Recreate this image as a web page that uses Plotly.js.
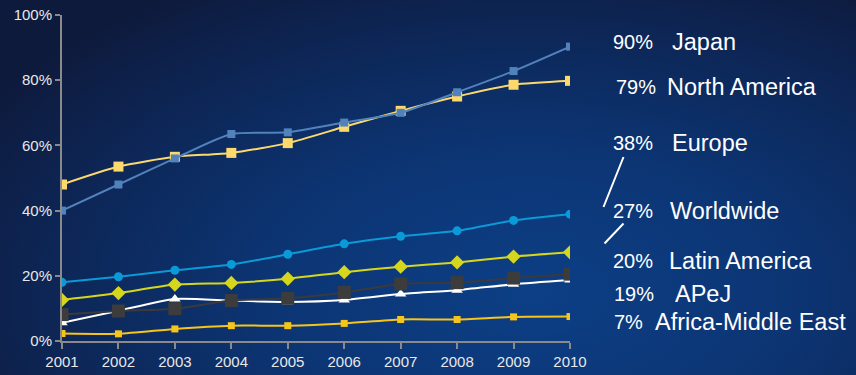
<!DOCTYPE html>
<html>
<head>
<meta charset="utf-8">
<script src="https://cdn.plot.ly/plotly-3.0.1.min.js"></script>
<style>
html,body{margin:0;padding:0;width:856px;height:375px;overflow:hidden;}
body{background:radial-gradient(ellipse 75% 95% at 62% 78%, #0c3f86 0%, #0c3574 40%, #0d2656 75%, #0e1a3c 100%);}
#chart{width:856px;height:375px;}
</style>
</head>
<body>
<div id="chart"></div>
<script>
var years = [2001,2002,2003,2004,2005,2006,2007,2008,2009,2010];
var japan        = [40,48,56,63.5,64,67,70,76.3,82.8,90.3];
var northAmerica = [48,53.5,56.5,57.7,60.7,65.7,70.6,75,78.6,79.8];
var europe       = [18,19.7,21.7,23.5,26.6,29.8,32.1,33.8,37,38.9];
var worldwide    = [12.6,14.7,17.3,17.8,19.1,21.1,22.8,24.1,25.9,27.2];
var latinAmerica = [8.1,9.2,9.9,12.4,13.1,14.9,17.5,17.9,19.3,20.5];
var apej         = [5.6,9.3,12.9,12.4,12,12.6,14.4,15.6,17.4,18.7];
var africaME     = [2.3,2.2,3.7,4.7,4.7,5.4,6.6,6.6,7.4,7.5];
var yTicks = [0,20,40,60,80,100];
var yTickText = ["0%","20%","40%","60%","80%","100%"];
var labelPct   = ["90%","79%","38%","27%","20%","19%","7%"];
var labelNames = ["Japan","North America","Europe","Worldwide","Latin America","APeJ","Africa-Middle East"];

function tr(y, color, sym, size, mcolor){
  return {x: years, y: y, type:'scatter', mode:'lines+markers',
    line:{color:color, width:2, shape:'spline', smoothing:0.6},
    marker:{symbol:sym, size:size, color:mcolor||color}, hoverinfo:'skip'};
}
var data = [
  tr(africaME, '#f6c51c', 'square', 7),
  tr(apej, '#ffffff', 'triangle-up', 10),
  tr(latinAmerica, '#3a3a3a', 'square', 13, '#3c3c3c'),
  tr(worldwide, '#d6d61c', 'diamond', 11),
  tr(europe, '#0a9ad8', 'circle', 9),
  tr(northAmerica, '#fcd96c', 'square', 10),
  tr(japan, '#5282bc', 'square', 8)
];

function px(x){return (x-62)/508;}
function py(y){return (341-y)/326;}
var labelY = [42,87,143,211,261,294,322];
var pctX = [611,614,611,611,611,612,612];
var nameX = [670,665,670,668,667,673,653];
var ann = [];
for (var i=0;i<labelNames.length;i++){
  ann.push({xref:'paper',yref:'paper',x:px(pctX[i]),y:py(labelY[i]),xanchor:'left',yanchor:'middle',
    text:labelPct[i],showarrow:false,font:{family:'Liberation Sans, Arial, sans-serif',size:20,color:'#ffffff'}});
  ann.push({xref:'paper',yref:'paper',x:px(nameX[i]),y:py(labelY[i]),xanchor:'left',yanchor:'middle',
    text:labelNames[i],showarrow:false,font:{family:'Liberation Sans, Arial, sans-serif',size:23.5,color:'#ffffff'}});
}
var shapes = [
  {type:'line',xref:'paper',yref:'paper',x0:px(623.5),y0:py(157),x1:px(603.5),y1:py(207),line:{color:'#ffffff',width:2}},
  {type:'line',xref:'paper',yref:'paper',x0:px(623.5),y0:py(223.5),x1:px(604.5),y1:py(243.5),line:{color:'#ffffff',width:2}}
];

var layout = {
  width:856, height:375,
  paper_bgcolor:'rgba(0,0,0,0)', plot_bgcolor:'rgba(0,0,0,0)',
  margin:{l:62,r:286,t:15,b:34},
  showlegend:false,
  font:{family:'Liberation Sans, Arial, sans-serif',color:'#e8e8e8',size:15},
  xaxis:{range:[2001,2010],tickvals:years,ticktext:years.map(String),showgrid:false,zeroline:false,
    showline:true,linecolor:'#8a8a8a',linewidth:2,ticks:'outside',ticklen:6,tickcolor:'#8a8a8a',tickwidth:2,
    tickfont:{size:15,color:'#e8e8e8'},fixedrange:true},
  yaxis:{range:[0,100],tickvals:yTicks,ticktext:yTickText,showgrid:false,zeroline:false,
    showline:true,linecolor:'#8a8a8a',linewidth:2,ticks:'outside',ticklen:5,tickcolor:'#8a8a8a',tickwidth:2,
    tickfont:{size:15,color:'#e8e8e8'},fixedrange:true},
  annotations:ann, shapes:shapes
};
Plotly.newPlot('chart', data, layout, {displayModeBar:false, staticPlot:true});
</script>
</body>
</html>
